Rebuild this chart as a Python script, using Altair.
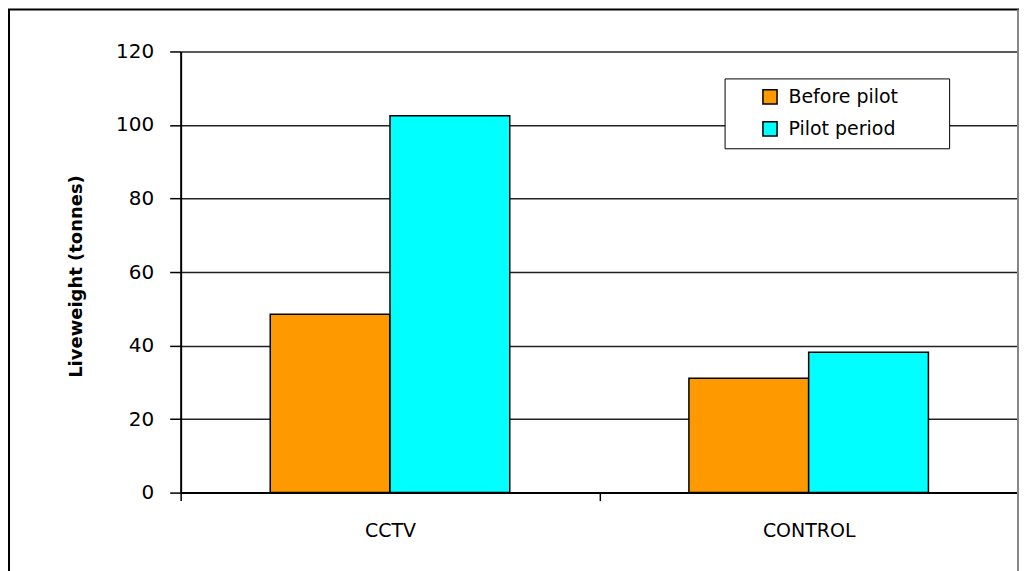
import altair as alt
import pandas as pd

groups = ["CCTV", "CCTV", "CONTROL", "CONTROL"]
periods = ["Before pilot", "Pilot period", "Before pilot", "Pilot period"]
values = [48.5, 102.5, 31.1, 38.2]
group_order = ["CCTV", "CONTROL"]
period_order = ["Before pilot", "Pilot period"]
colors = ["#FF9900", "#00FFFF"]
y_ticks = [0, 20, 40, 60, 80, 100, 120]

df = pd.DataFrame({"group": groups, "period": periods, "value": values})

W, H = 839, 442
half_band = W / len(group_order) / 2

bars = alt.Chart(df).mark_bar(stroke="black", strokeWidth=1.5).encode(
    x=alt.X(
        "group:N",
        sort=group_order,
        scale=alt.Scale(paddingInner=0, paddingOuter=0),
        axis=alt.Axis(
            title=None, labelAngle=0, tickOffset=-half_band, labelOffset=half_band,
            domainColor="black", domainWidth=2, tickColor="black", tickWidth=1.5,
            tickSize=8, labelFont="DejaVu Sans", labelFontSize=19, labelColor="black",
            labelPadding=21, grid=False,
        ),
    ),
    xOffset=alt.XOffset(
        "period:N", sort=period_order,
        scale=alt.Scale(paddingInner=0, paddingOuter=0.748),
    ),
    y=alt.Y(
        "value:Q",
        scale=alt.Scale(domain=[0, 120], nice=False),
        axis=alt.Axis(
            values=y_ticks, title="Liveweight (tonnes)",
            domainColor="black", domainWidth=2, tickColor="black", tickWidth=1.5,
            tickSize=11, labelFont="DejaVu Sans", labelFontSize=20, labelColor="black",
            labelPadding=16, gridColor="#222222", gridWidth=1.5,
            titleFont="DejaVu Sans", titleFontWeight="bold", titleFontSize=18,
            titleColor="black", titleX=-104, titleY=225, titleBaseline="middle",
        ),
    ),
    color=alt.Color(
        "period:N", sort=period_order,
        scale=alt.Scale(domain=period_order, range=colors),
        legend=alt.Legend(
            title=None, orient="none", legendX=545, legendY=27,
            symbolType="square", symbolSize=200, symbolStrokeColor="black",
            symbolStrokeWidth=1.5, labelFont="DejaVu Sans", labelFontSize=19,
            labelColor="black", fillColor="white", strokeColor="black",
            padding=9, rowPadding=11, symbolOffset=27, labelOffset=9,
            labelExpr="datum.label + '\u2800\u2800\u2800'",
        ),
    ),
)

frame_src = pd.DataFrame({"a": [0]})
frame = alt.Chart(frame_src).mark_rect(filled=False, stroke="black", strokeWidth=2).encode(
    x=alt.value(-172), x2=alt.value(W), y=alt.value(-42), y2=alt.value(600)
)
right_edge = alt.Chart(frame_src).mark_rule(color="#888888", strokeWidth=2).encode(
    x=alt.value(W), y=alt.value(-42), y2=alt.value(600)
)

chart = alt.layer(bars, frame, right_edge).properties(
    width=W, height=H,
    autosize=alt.AutoSizeParams(type="none"),
    padding={"left": 173, "top": 43, "right": 2, "bottom": 80},
    background="white",
).configure_view(strokeWidth=0)

chart.save("out.html", embed_options={"renderer": "svg", "actions": False})
